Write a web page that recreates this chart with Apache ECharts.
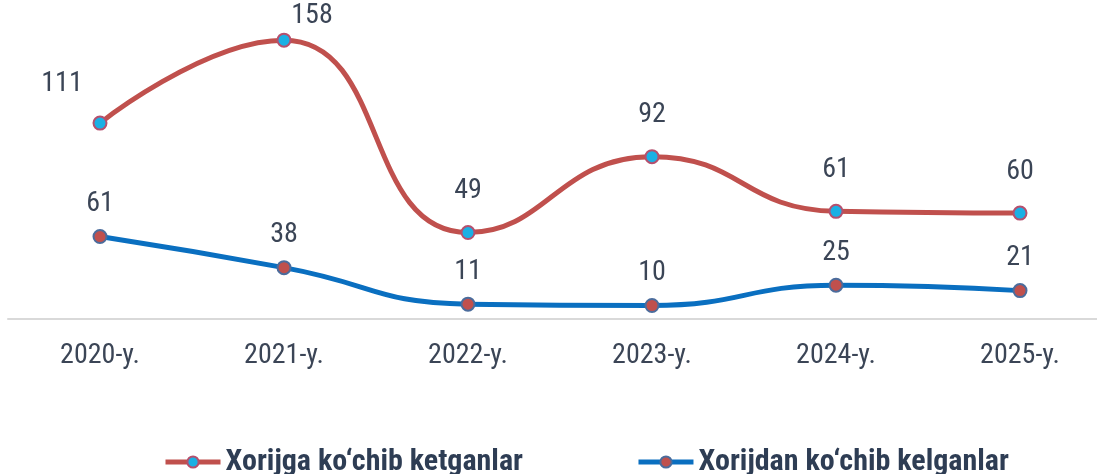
<!DOCTYPE html>
<html>
<head>
<meta charset="utf-8">
<style>
  html, body { margin: 0; padding: 0; background: #ffffff; }
  #chart { width: 1097px; height: 474px; }
</style>
<script src="https://cdn.jsdelivr.net/npm/echarts@6/dist/echarts.min.js"></script>
</head>
<body>
<div id="chart"></div>
<script>
const categories = ['2020-y.', '2021-y.', '2022-y.', '2023-y.', '2024-y.', '2025-y.'];
const seriesNames = ['Xorijga ko‘chib ketganlar', 'Xorijdan ko‘chib kelganlar'];
const ketganlar = [111, 158, 49, 92, 61, 60];
const kelganlar = [61, 38, 11, 10, 25, 21];

// label nudges (styling only)
const ketganlarLabelOffset = [[-38, 2], [28, 17], [0, 0], [0, 0], [0, 0], [0, 0]];

const FONT = '"Roboto Condensed", "Liberation Sans Narrow", "DejaVu Sans Condensed", Roboto, sans-serif';
const chart = echarts.init(document.getElementById('chart'), null, { renderer: 'canvas' });

chart.setOption({
  animation: false,
  backgroundColor: '#ffffff',
  grid: { left: 8, width: 1104, top: 19, bottom: 155, containLabel: false, outerBoundsMode: 'none' },
  xAxis: {
    type: 'category',
    data: categories,
    boundaryGap: true,
    axisLine: { show: true, lineStyle: { color: '#d9d9d9', width: 2 } },
    axisTick: { show: false },
    axisLabel: { color: '#3b4556', fontSize: 28, fontFamily: FONT, margin: 23 },
    splitLine: { show: false }
  },
  yAxis: [
    { type: 'value', min: 0, max: 170, show: false, splitLine: { show: false } },
    { type: 'value', min: 0, max: 222, show: false, splitLine: { show: false } }
  ],
  legend: {
    top: 442,
    left: 158,
    itemGap: 113,
    itemWidth: 55,
    itemHeight: 14,
    textStyle: { color: '#2e3d54', fontSize: 30, fontWeight: 'bold', fontFamily: FONT },
    data: [
      { name: seriesNames[0], lineStyle: { width: 5 } },
      { name: seriesNames[1], lineStyle: { width: 5 } }
    ]
  },
  series: [
    {
      name: seriesNames[0],
      type: 'line',
      yAxisIndex: 0,
      smooth: 0.5,
      data: ketganlar.map((v, i) => ({
        value: v,
        label: { offset: ketganlarLabelOffset[i] }
      })),
      lineStyle: { color: '#c0504d', width: 5 },
      symbol: 'circle',
      symbolSize: 13,
      itemStyle: { color: '#1ab0e4', borderColor: '#b5506e', borderWidth: 2 },
      label: { show: true, position: 'top', distance: 20, color: '#3b4556', fontSize: 28, fontFamily: FONT }
    },
    {
      name: seriesNames[1],
      type: 'line',
      yAxisIndex: 1,
      smooth: 0.5,
      data: kelganlar,
      lineStyle: { color: '#0a6fc0', width: 5 },
      symbol: 'circle',
      symbolSize: 13,
      itemStyle: { color: '#c0504d', borderColor: '#4b6c9c', borderWidth: 2 },
      label: { show: true, position: 'top', distance: 11, color: '#3b4556', fontSize: 28, fontFamily: FONT }
    }
  ]
});
</script>
</body>
</html>
